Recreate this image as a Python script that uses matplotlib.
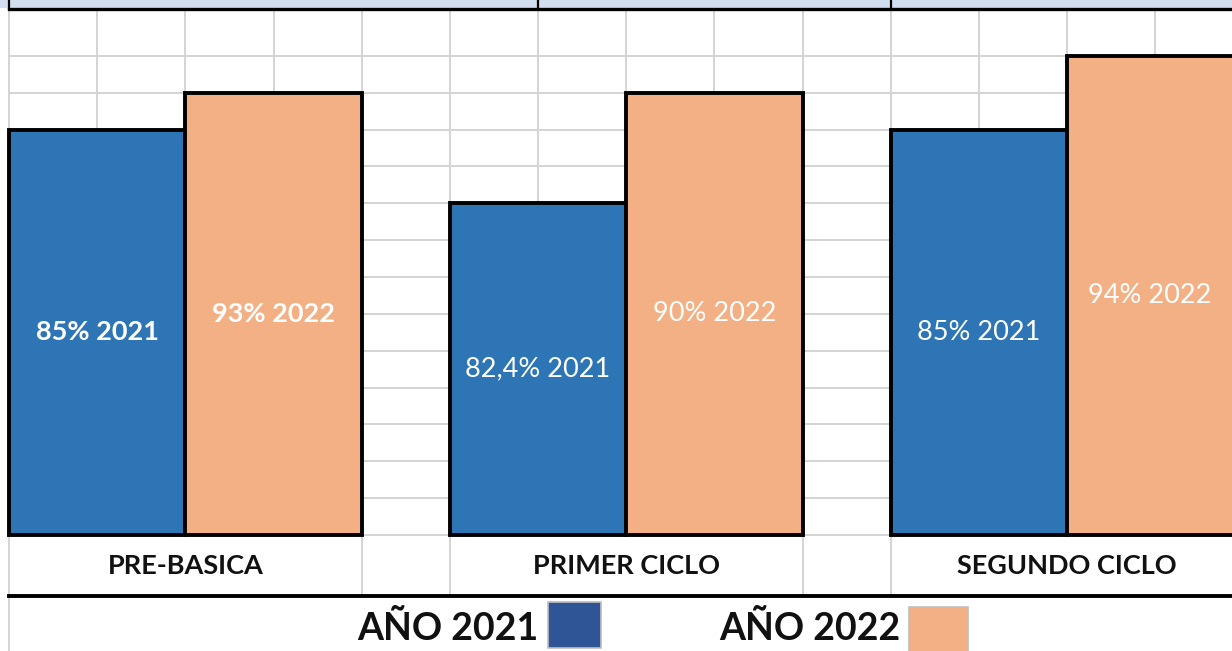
import numpy as np
import matplotlib
matplotlib.use("Agg")
import matplotlib.pyplot as plt
from matplotlib.patches import Rectangle

plt.rcParams["font.family"] = ["Lato", "DejaVu Sans"]

# datos del gráfico
categorias = ["PRE-BASICA", "PRIMER CICLO", "SEGUNDO CICLO"]
etiquetas_2021 = ["85% 2021", "82,4% 2021", "85% 2021"]
etiquetas_2022 = ["93% 2022", "90% 2022", "94% 2022"]
# altura de las barras en filas de la hoja (así están dibujadas)
filas_2021 = [11, 9, 11]
filas_2022 = [12, 12, 13]
leyenda = ["AÑO 2021", "AÑO 2022"]

AZUL = "#2E75B6"
NARANJA = "#F3B084"
GRIS = "#D4D4D4"

# geometría de la hoja (en pixeles de la imagen)
W, H = 1232, 651
COL, FILA = 88.17, 36.85
X0, Y0 = 9, 535


def px(x, y):
    # pixel -> unidades (columna, fila)
    return (x - X0) / COL, (Y0 - y) / FILA


fig = plt.figure(figsize=(W / 100, H / 100), dpi=100)
ax = fig.add_axes([0, 0, 1, 1])
ax.set_xlim(px(0, 0)[0], px(W, 0)[0])
ax.set_ylim(px(0, H)[1], px(0, 0)[1])
ax.axis("off")

techo = px(0, 9)[1]
derecha = px(W, 0)[0]
piso_cat = px(0, 596)[1]

# cuadrícula de la hoja
for c in range(0, 15):
    ax.plot([c, c], [0, techo], color=GRIS, lw=1.4, zorder=0)
for f in range(0, 14):
    ax.plot([0, derecha], [f, f], color=GRIS, lw=1.4, zorder=0)
for c in [0, 4, 5, 9, 10]:
    ax.plot([c, c], [piso_cat, 0], color=GRIS, lw=1.4, zorder=0)
ax.plot([0, 0], [px(0, H)[1], piso_cat], color=GRIS, lw=1.4, zorder=0)

# banda superior
ax.add_patch(Rectangle(px(0, 8), derecha + 1, techo, facecolor="#D2DDEE",
                       edgecolor="none", zorder=1))
ax.plot([0, derecha], [techo, techo], color="black", lw=2.4, zorder=3)
for c in [0, 6, 10]:
    ax.plot([c, c], [techo, px(0, 0)[1]], color="black", lw=1.6, zorder=3)

# barras
xc = np.arange(len(categorias)) * 5 + 2
b1 = ax.bar(xc - 1, filas_2021, width=2, color=AZUL, edgecolor="black",
            linewidth=2.8, zorder=2)
b2 = ax.bar(xc + 1, filas_2022, width=2, color=NARANJA, edgecolor="black",
            linewidth=2.8, zorder=2)
for barras, etq in [(b1, etiquetas_2021), (b2, etiquetas_2022)]:
    txts = ax.bar_label(barras, labels=etq, label_type="center",
                        color="white", fontsize=19.5)
    txts[0].set_fontweight("bold")

# fila de categorías
ax.plot([0, derecha], [piso_cat, piso_cat], color="black", lw=2.8, zorder=3)
y_cat = px(0, 566)[1]
for x, cat in zip(xc, categorias):
    ax.text(x, y_cat, cat, ha="center", va="center", fontsize=19.5,
            fontweight="bold", color="#111111")

# leyenda
colores_ley = ["#2F5597", NARANJA]
texto_x = [538, 900]
caja = [(548, 602, 53, 46), (909, 607, 59, 46)]
for nom, col, tx, (bx, by, bw, bh) in zip(leyenda, colores_ley, texto_x, caja):
    ax.text(*px(tx, 628), nom, ha="right", va="center", fontsize=27,
            fontweight="bold", color="#111111")
    x, y = px(bx, by + bh)
    ax.add_patch(Rectangle((x, y), bw / COL, bh / FILA, facecolor=col,
                           edgecolor="#BFBFBF", lw=1.2, zorder=2))

fig.savefig("out.png", dpi=100)
